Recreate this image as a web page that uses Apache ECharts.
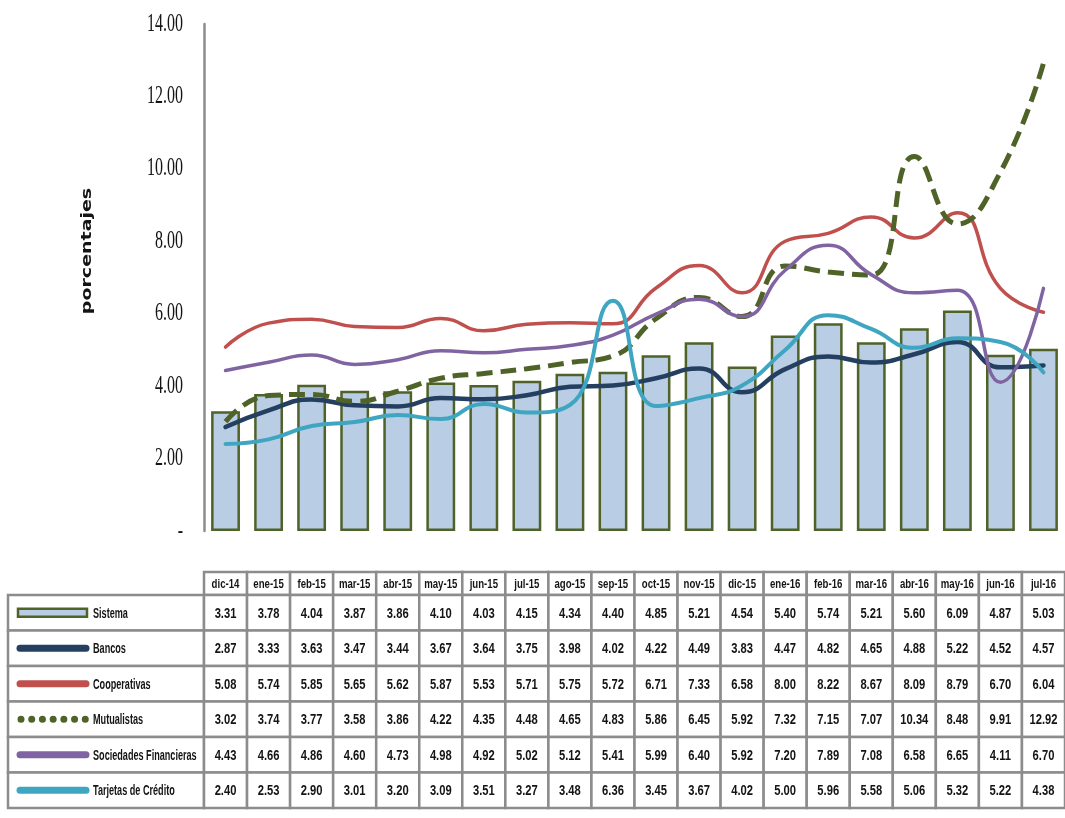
<!DOCTYPE html>
<html>
<head>
<meta charset="utf-8">
<script src="https://cdn.jsdelivr.net/npm/echarts@6/dist/echarts.min.js"></script>
<style>
  html, body { margin: 0; padding: 0; background: #fff; }
  #main { width: 1065px; height: 818px; }
</style>
</head>
<body>
<div id="main"></div>
<script>
// meses del cuadro
const meses = ['dic-14', 'ene-15', 'feb-15', 'mar-15', 'abr-15', 'may-15', 'jun-15', 'jul-15', 'ago-15', 'sep-15',
  'oct-15', 'nov-15', 'dic-15', 'ene-16', 'feb-16', 'mar-16', 'abr-16', 'may-16', 'jun-16', 'jul-16'];

const sistema = [3.31, 3.78, 4.04, 3.87, 3.86, 4.10, 4.03, 4.15, 4.34, 4.40, 4.85, 5.21, 4.54, 5.40, 5.74, 5.21, 5.60, 6.09, 4.87, 5.03];
const bancos = [2.87, 3.33, 3.63, 3.47, 3.44, 3.67, 3.64, 3.75, 3.98, 4.02, 4.22, 4.49, 3.83, 4.47, 4.82, 4.65, 4.88, 5.22, 4.52, 4.57];
const cooperativas = [5.08, 5.74, 5.85, 5.65, 5.62, 5.87, 5.53, 5.71, 5.75, 5.72, 6.71, 7.33, 6.58, 8.00, 8.22, 8.67, 8.09, 8.79, 6.70, 6.04];
const mutualistas = [3.02, 3.74, 3.77, 3.58, 3.86, 4.22, 4.35, 4.48, 4.65, 4.83, 5.86, 6.45, 5.92, 7.32, 7.15, 7.07, 10.34, 8.48, 9.91, 12.92];
const sociedades = [4.43, 4.66, 4.86, 4.60, 4.73, 4.98, 4.92, 5.02, 5.12, 5.41, 5.99, 6.40, 5.92, 7.20, 7.89, 7.08, 6.58, 6.65, 4.11, 6.70];
const tarjetas = [2.40, 2.53, 2.90, 3.01, 3.20, 3.09, 3.51, 3.27, 3.48, 6.36, 3.45, 3.67, 4.02, 5.00, 5.96, 5.58, 5.06, 5.32, 5.22, 4.38];

// eje y
const yTicks = [0, 2, 4, 6, 8, 10, 12, 14];
const yTickLabels = ['-', '2.00', '4.00', '6.00', '8.00', '10.00', '12.00', '14.00'];

const verde = '#4f6228';
const filas = [
  { name: 'Sistema', data: sistema, color: '#b9cde5' },
  { name: 'Bancos', data: bancos, color: '#243f60' },
  { name: 'Cooperativas', data: cooperativas, color: '#c0504d' },
  { name: 'Mutualistas', data: mutualistas, color: verde },
  { name: 'Sociedades Financieras', data: sociedades, color: '#8064a2' },
  { name: 'Tarjetas de Crédito', data: tarjetas, color: '#3fa6c2' }
];

function linea(f, width, extra) {
  return Object.assign({
    name: f.name,
    type: 'line',
    smooth: 0.5,
    showSymbol: false,
    data: f.data,
    lineStyle: { color: f.color, width: width, cap: 'round' },
    itemStyle: { color: f.color }
  }, extra || {});
}

const chart = echarts.init(document.getElementById('main'));
const option = {
  animation: false,
  grid: { left: 204, top: 24, width: 868, height: 507 },
  xAxis: {
    type: 'category',
    data: meses,
    axisLine: { show: false },
    axisTick: { show: false },
    axisLabel: { show: false }
  },
  yAxis: {
    type: 'value',
    min: 0,
    max: 14,
    interval: 2,
    axisLine: { show: true, lineStyle: { color: '#8c8c8c', width: 2.5 } },
    axisTick: { show: false },
    axisLabel: { show: false },
    splitLine: { show: false }
  },
  series: [
    {
      name: 'Sistema',
      type: 'bar',
      data: sistema,
      barWidth: '67%',
      itemStyle: { color: '#b9cde5', borderColor: verde, borderWidth: 2.5 }
    },
    linea(filas[1], 4.5),
    linea(filas[2], 3.5),
    linea(filas[3], 5, { lineStyle: { color: verde, width: 5, type: [16, 8], cap: 'butt' } }),
    linea(filas[4], 3.5),
    linea(filas[5], 4)
  ]
};
chart.setOption(option);

// cuadro de datos debajo del grafico
const xs = meses.map((m, i) => chart.convertToPixel({ xAxisIndex: 0 }, i));
const cw = xs[1] - xs[0];
const gridLeft = xs[0] - cw / 2;
const headTop = 572, headH = 23;
const rowTop = 595, rowH = 35.5;
const tabLeft = 8;
const borde = { stroke: '#8c8c8c', lineWidth: 2.5, fill: '#fff' };
const txtFill = '#141414';
const g = [];

function texto(x, y, s, font, align, sx) {
  g.push({
    type: 'text', x: x, y: y, scaleX: sx, z: 10,
    style: { text: s, font: font, fill: txtFill, align: align, verticalAlign: 'middle', textAlign: align, textVerticalAlign: 'middle' }
  });
}

// encabezado
meses.forEach((m, i) => {
  g.push({ type: 'rect', shape: { x: xs[i] - cw / 2, y: headTop, width: cw, height: headH }, style: borde });
  texto(xs[i], headTop + headH / 2 + 1, m, 'bold 13px "Liberation Sans", Arial, sans-serif', 'center', 0.74);
});

// filas
filas.forEach((f, k) => {
  const y0 = rowTop + k * rowH;
  const yc = y0 + rowH / 2;
  g.push({ type: 'rect', shape: { x: tabLeft, y: y0, width: gridLeft - tabLeft, height: rowH }, style: borde });
  f.data.forEach((v, i) => {
    g.push({ type: 'rect', shape: { x: xs[i] - cw / 2, y: y0, width: cw, height: rowH }, style: borde });
    texto(xs[i], yc + 1, v.toFixed(2), 'bold 14px "Liberation Sans", Arial, sans-serif', 'center', 0.8);
  });
  // simbolo de la leyenda
  if (k === 0) {
    g.push({ type: 'rect', z: 10, shape: { x: 18, y: yc - 4, width: 69, height: 8 }, style: { fill: f.color, stroke: verde, lineWidth: 2.5 } });
  } else if (f.name === 'Mutualistas') {
    g.push({ type: 'line', z: 10, shape: { x1: 21, y1: yc, x2: 86, y2: yc }, style: { stroke: f.color, lineWidth: 7, lineCap: 'round', lineDash: [0.01, 10.7] } });
  } else {
    g.push({ type: 'line', z: 10, shape: { x1: 20, y1: yc, x2: 86, y2: yc }, style: { stroke: f.color, lineWidth: 7, lineCap: 'round' } });
  }
  texto(93, yc + 1, f.name, 'bold 14px "Liberation Sans", Arial, sans-serif', 'left', 0.65);
});

// etiquetas del eje y
yTicks.forEach((v, i) => {
  const y = chart.convertToPixel({ yAxisIndex: 0 }, v);
  texto(183, y, yTickLabels[i], '25px "Liberation Serif", "DejaVu Serif", serif', 'right', 0.64);
});

// titulo del eje
g.push({
  type: 'text', x: 88, y: 251, rotation: Math.PI / 2, scaleY: 0.7, z: 10,
  style: { text: 'porcentajes', font: 'bold 19px "DejaVu Sans", Verdana, sans-serif', fill: txtFill, align: 'center', verticalAlign: 'middle', textAlign: 'center', textVerticalAlign: 'middle' }
});

chart.setOption({ graphic: g });
</script>
</body>
</html>
